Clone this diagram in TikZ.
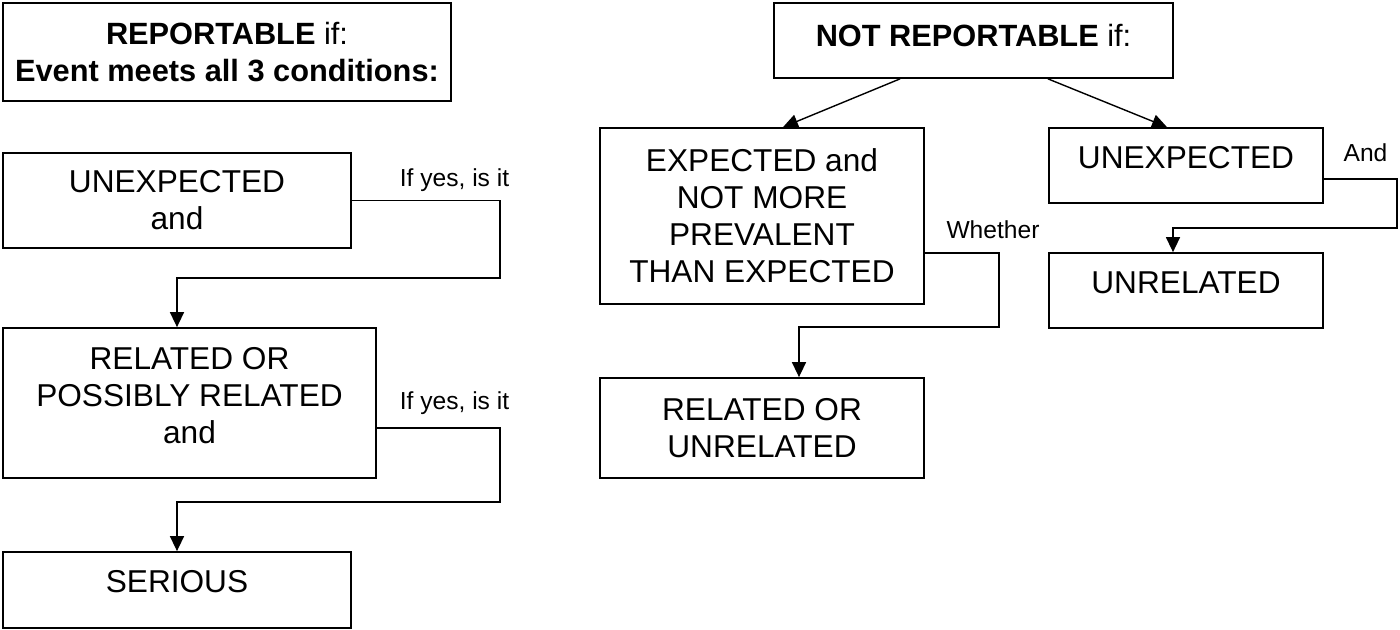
\documentclass[tikz,border=0pt]{standalone}
\usepackage{fontspec}
\setmainfont{Liberation Sans}
\usetikzlibrary{arrows.meta}
\tikzset{
    box/.style={draw, line width=1pt, align=center, inner sep=0pt, font=\fontsize{18}{21}\selectfont},
    headbox/.style={box, font=\fontsize{17.5}{21}\selectfont},
    note/.style={inner sep=0pt, font=\fontsize{14}{17}\selectfont},
    conn/.style={line width=0.8pt, -{Triangle[length=3mm,width=2.8mm]}}
}

\begin{document}
\begin{tikzpicture}[x=0.02cm, y=-0.02cm]
\useasboundingbox (0,0) rectangle (1400,629);
% reportable side
\node (rep) at (227,52)[headbox, minimum width=8.96cm, minimum height=1.96cm] {\textbf{REPORTABLE} if:\\\textbf{Event meets all 3 conditions:}};
\node (unexp) at (177,200.5)[box, minimum width=6.96cm, minimum height=1.9cm] {UNEXPECTED\\and};
\node (rel) at (189.5,403)[box, minimum width=7.46cm, minimum height=3cm] {RELATED OR\\POSSIBLY RELATED\\and\\[-12pt]{}};
\node (ser) at (177,590)[box, minimum width=6.96cm, minimum height=1.52cm, text depth=9.4pt] {SERIOUS};
\node (ifyesA) at (454.5,180)[note] {If yes, is it};
\node (ifyesB) at (454.5,403)[note] {If yes, is it};
\draw[conn] (unexp.east) -| (500,278) -| (rel.north -| unexp.south);
\draw[conn] ([yshift=-0.5cm]rel.east) -| (500,502) -| (ser.north);
% not reportable side
\node (notrep) at (973.5,40.5)[headbox, minimum width=7.98cm, minimum height=1.5cm, text depth=6.2pt] {\textbf{NOT REPORTABLE} if:};
\node (expd) at (762,216)[box, minimum width=6.48cm, minimum height=3.52cm] {EXPECTED and\\NOT MORE\\PREVALENT\\THAN EXPECTED};
\node (unexpB) at (1186,165.5)[box, minimum width=5.48cm, minimum height=1.5cm, text depth=9.4pt] {UNEXPECTED};
\node (unrel) at (1186,290.5)[box, minimum width=5.48cm, minimum height=1.5cm, text depth=9.4pt] {UNRELATED};
\node (relunrel) at (762,428)[box, minimum width=6.48cm, minimum height=2cm] {RELATED OR\\UNRELATED};
\node (whether) at (993,230)[note] {Whether};
\node (andlbl) at (1365.5,153)[note] {And};
\draw[conn] ([xshift=-1.47cm]notrep.south) -- ([xshift=0.42cm]expd.north);
\draw[conn] ([xshift=1.49cm]notrep.south) -- ([xshift=-0.38cm]unexpB.north);
\draw[conn] ([yshift=-0.74cm]expd.east) -| (999,327) -| ([xshift=0.74cm]relunrel.north);
\draw[conn] ([yshift=-0.27cm]unexpB.east) -| (1397,228) -| ([xshift=-0.26cm]unrel.north);
\end{tikzpicture}
\end{document}
